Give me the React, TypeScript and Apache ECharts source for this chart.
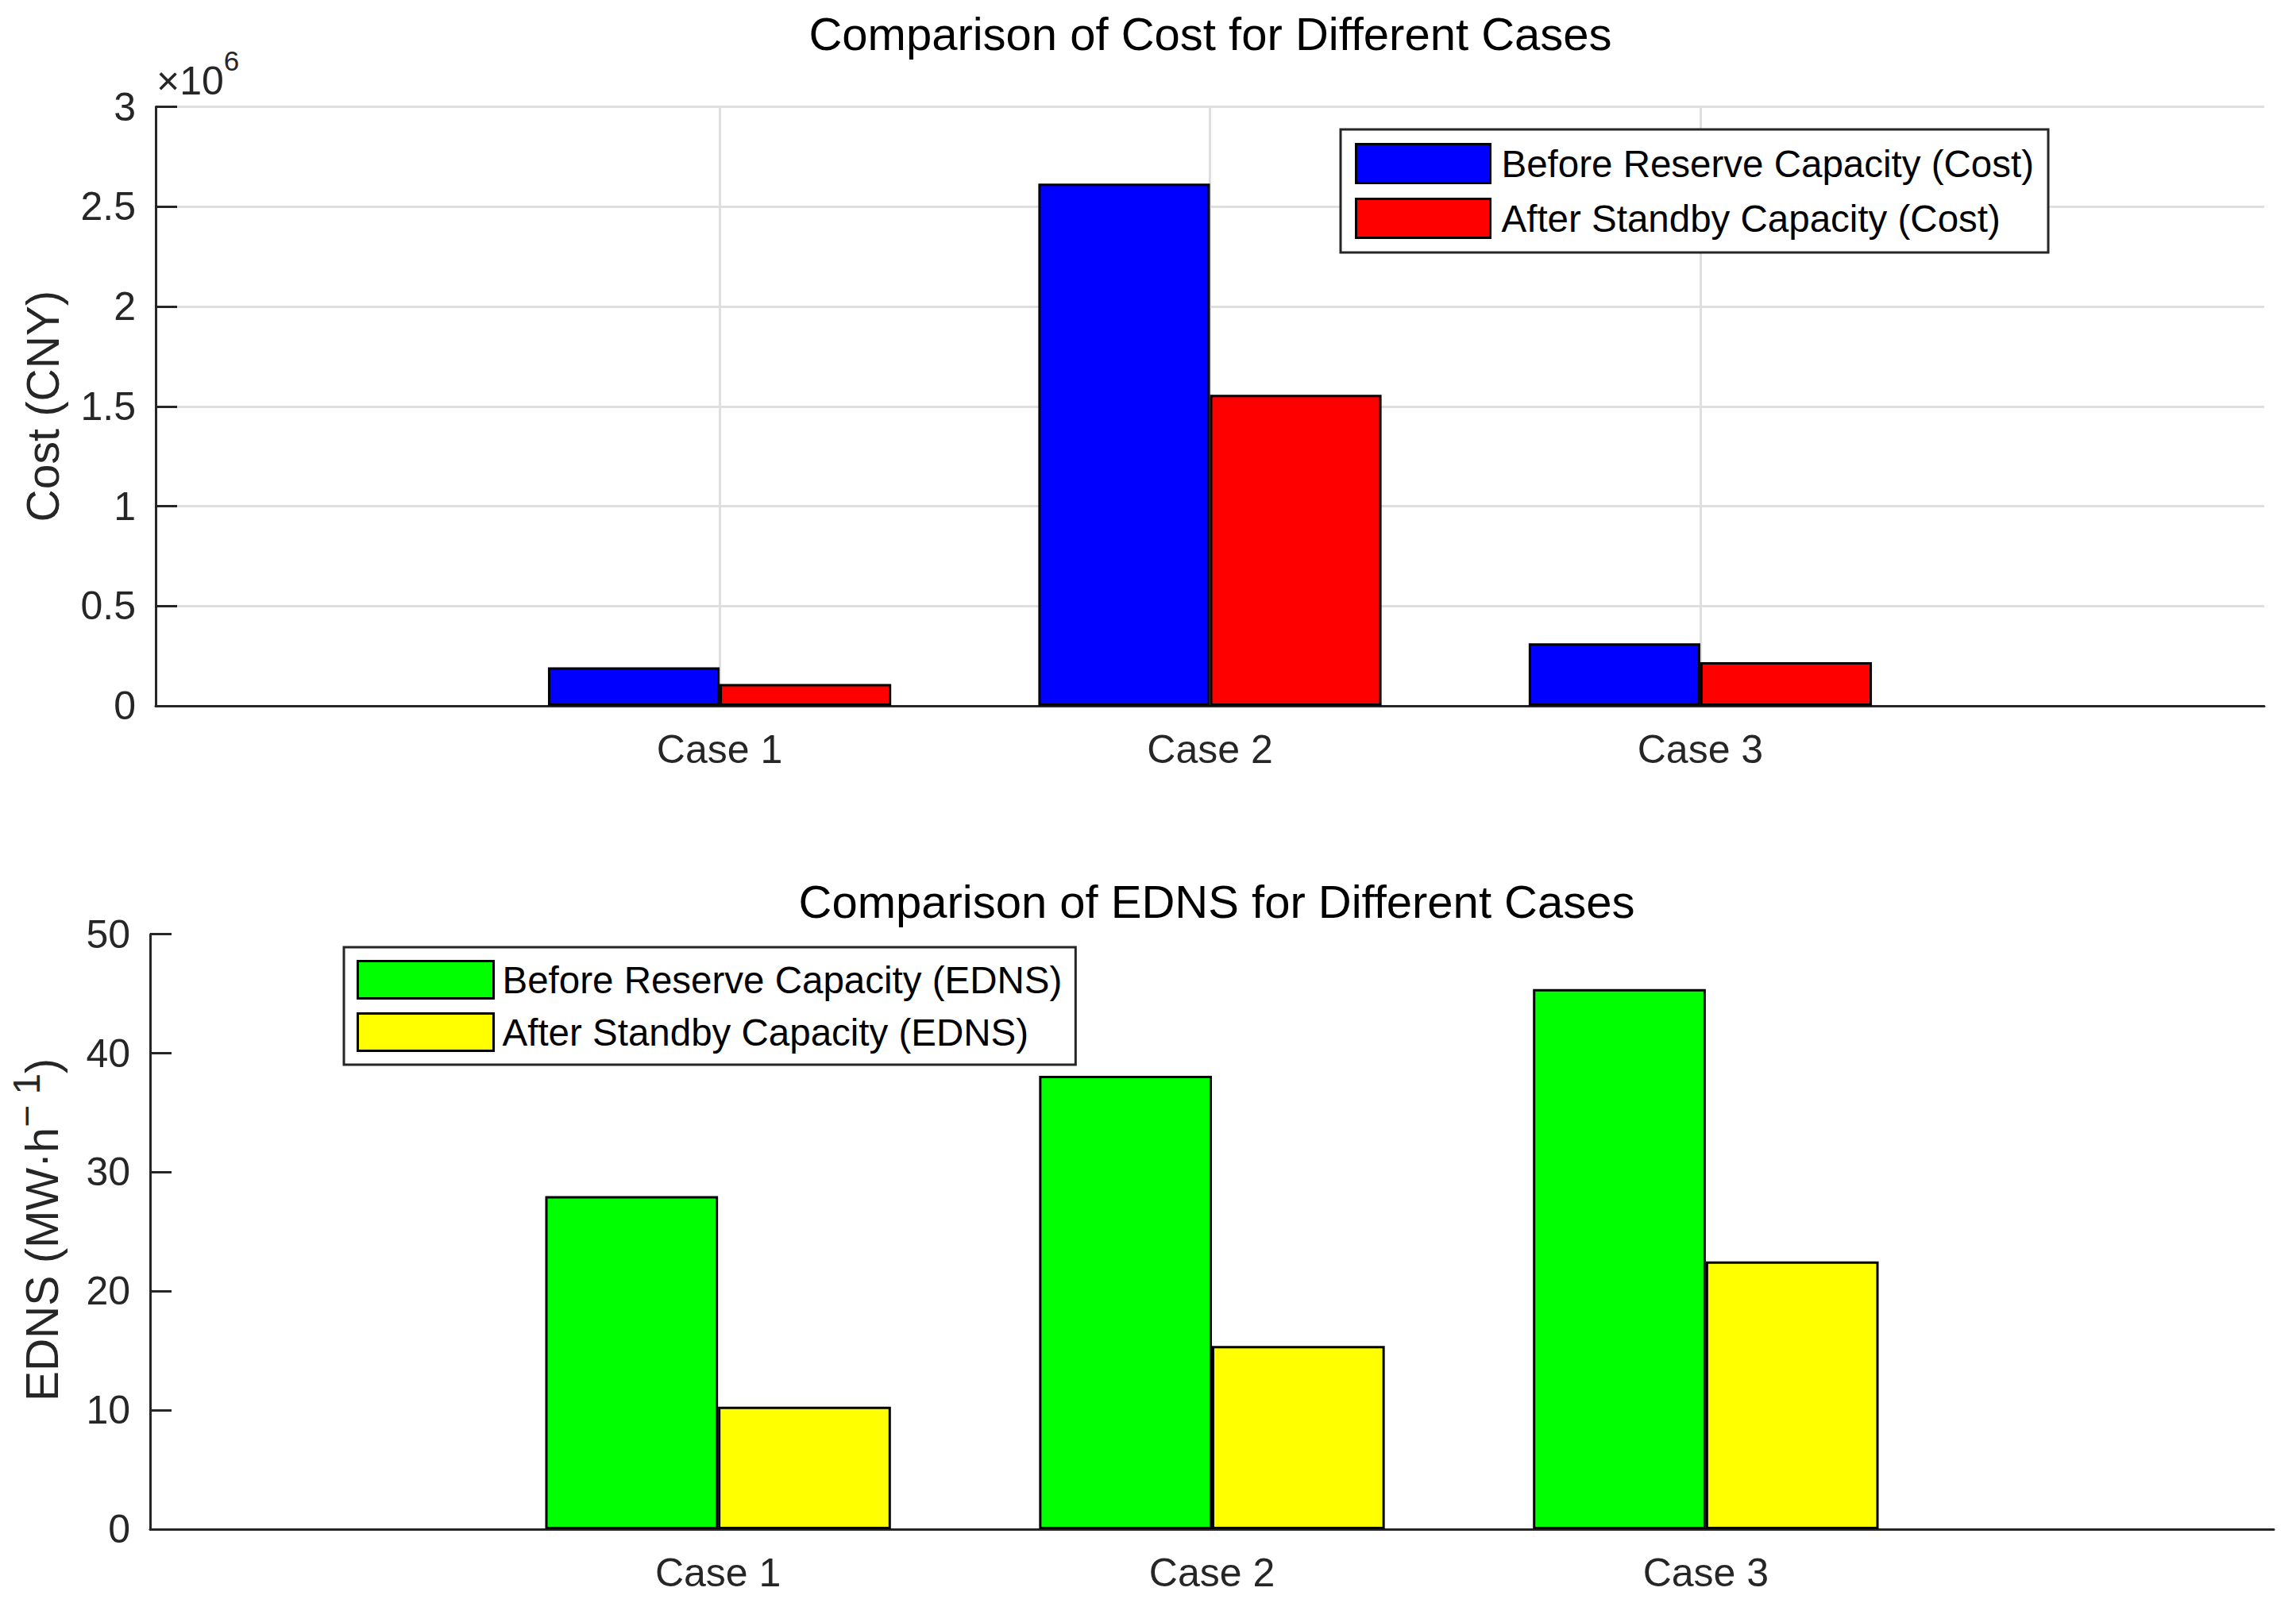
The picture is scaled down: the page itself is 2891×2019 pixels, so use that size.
import React, { useEffect, useRef } from "react";
import * as echarts from "echarts";

const FONT = "'Liberation Sans', Arial, Helvetica, sans-serif";
const AXIS_COLOR = "#262626";
const GRID_COLOR = "#dfdfdf";

const cases = ["Case 1", "Case 2", "Case 3"];
const caseX = [1, 2, 3];
const costBefore = [193000, 2615000, 313000];
const costAfter = [109000, 1558000, 219000];
const ednsBefore = [28.0, 38.1, 45.4];
const ednsAfter = [10.3, 15.4, 22.5];
const costTicks = { min: 0, max: 3000000, interval: 500000 };
const ednsTicks = { min: 0, max: 50, interval: 10 };
const costNames = ["Before Reserve Capacity (Cost)", "After Standby Capacity (Cost)"];
const ednsNames = ["Before Reserve Capacity (EDNS)", "After Standby Capacity (EDNS)"];

function pairs(vals: number[]) {
  return caseX.map((x, i) => [x, vals[i]]);
}

export default function App() {
  const ref = useRef<HTMLDivElement>(null);
  useEffect(() => {
    document.body.style.margin = "0";
    if (!ref.current) return;
    const chart = echarts.init(ref.current, undefined, { renderer: "svg" });

    const xAxisBase = (gridIndex: number, grid: boolean) => ({
      type: "value",
      gridIndex,
      min: -0.15,
      max: 4.15,
      axisLine: { show: true, onZero: false, lineStyle: { color: AXIS_COLOR, width: 3 } },
      axisTick: { show: false, customValues: caseX },
      axisLabel: {
        customValues: caseX,
        formatter: (v: number) => cases[Math.round(v) - 1] ?? "",
        fontSize: 50,
        color: AXIS_COLOR,
        fontFamily: FONT,
        margin: 30,
      },
      splitLine: { show: grid, lineStyle: { color: GRID_COLOR, width: 3 } },
    });

    const yAxisBase = (gridIndex: number, ticks: any, grid: boolean, fmt: (v: number) => string) => ({
      type: "value",
      gridIndex,
      min: ticks.min,
      max: ticks.max,
      interval: ticks.interval,
      axisLine: { show: true, onZero: false, lineStyle: { color: AXIS_COLOR, width: 3 } },
      axisTick: { show: true, inside: true, length: 27, lineStyle: { color: AXIS_COLOR, width: 3 } },
      axisLabel: { fontSize: 50, color: AXIS_COLOR, fontFamily: FONT, margin: 25, formatter: fmt },
      splitLine: { show: grid, lineStyle: { color: GRID_COLOR, width: 3 } },
      nameLocation: "middle",
      nameRotate: 90,
    });

    const legendBase = {
      orient: "vertical",
      icon: "rect",
      borderColor: AXIS_COLOR,
      borderWidth: 3,
      borderRadius: 0,
      backgroundColor: "#ffffff",
      selectedMode: false,
      itemStyle: { borderColor: "#000", borderWidth: 3 },
    };

    const barSeries = (name: string, vals: number[], color: string, idx: number) => ({
      type: "bar",
      name,
      xAxisIndex: idx,
      yAxisIndex: idx,
      barWidth: "35%",
      barGap: "0%",
      itemStyle: { color, borderColor: "#000", borderWidth: 3 },
      data: pairs(vals),
    });

    const option: any = {
      animation: false,
      backgroundColor: "#ffffff",
      textStyle: { fontFamily: FONT },
      title: [
        {
          text: "Comparison of Cost for Different Cases",
          left: 1524,
          top: 13,
          textAlign: "center",
          padding: 0,
          textStyle: { fontSize: 58, fontWeight: "normal", color: "#000", fontFamily: FONT, lineHeight: 58 },
        },
        {
          text: "Comparison of EDNS for Different Cases",
          left: 1532,
          top: 1106,
          textAlign: "center",
          padding: 0,
          textStyle: { fontSize: 58, fontWeight: "normal", color: "#000", fontFamily: FONT, lineHeight: 58 },
        },
        {
          text: "×10{sup|6}",
          left: 197,
          top: 77,
          padding: 0,
          textStyle: {
            fontSize: 50,
            fontWeight: "normal",
            color: AXIS_COLOR,
            fontFamily: FONT,
            lineHeight: 50,
            rich: {
              sup: { fontSize: 35, lineHeight: 50, padding: [0, 0, 52, 0], color: AXIS_COLOR, fontFamily: FONT },
            },
          },
        },
      ],
      graphic: [
        {
          type: "text",
          x: 53,
          y: 1549,
          rotation: Math.PI / 2,
          silent: true,
          style: {
            text: "EDNS (MW·h{sup|− 1})",
            fontSize: 57,
            fontFamily: FONT,
            fill: AXIS_COLOR,
            lineHeight: 57,
            align: "center",
            verticalAlign: "middle",
            rich: {
              sup: { fontSize: 48, lineHeight: 57, padding: [0, 0, 40, 0], fill: AXIS_COLOR, fontFamily: FONT },
            },
          },
        },
      ],
      legend: [
        {
          ...legendBase,
          data: costNames,
          left: 1688,
          top: 163,
          padding: [17, 18, 17, 18],
          itemWidth: 169,
          itemHeight: 49,
          itemGap: 17,
          textStyle: { fontSize: 47.5, lineHeight: 49, color: "#000", fontFamily: FONT, padding: [0, 0, 0, 9] },
        },
        {
          ...legendBase,
          data: ednsNames,
          left: 433,
          top: 1193,
          padding: [16, 17, 16, 16],
          itemWidth: 171,
          itemHeight: 47,
          itemGap: 16,
          textStyle: { fontSize: 47.5, lineHeight: 47, color: "#000", fontFamily: FONT, padding: [0, 0, 0, 6] },
        },
      ],
      grid: [
        { left: 196, top: 134.5, right: 40, bottom: 1130, containLabel: false, outerBoundsMode: "none" },
        { left: 189, top: 1176.7, right: 28, bottom: 93, containLabel: false, outerBoundsMode: "none" },
      ],
      xAxis: [xAxisBase(0, true), xAxisBase(1, false)],
      yAxis: [
        {
          ...yAxisBase(0, costTicks, true, (v: number) => String(v / 1e6)),
          name: "Cost (CNY)",
          nameGap: 114,
          nameTextStyle: { fontSize: 57, color: AXIS_COLOR, fontFamily: FONT, lineHeight: 57 },
        },
        {
          ...yAxisBase(1, ednsTicks, false, (v: number) => String(v)),
        },
      ],
      series: [
        barSeries(costNames[0], costBefore, "#0000ff", 0),
        barSeries(costNames[1], costAfter, "#ff0000", 0),
        barSeries(ednsNames[0], ednsBefore, "#00ff00", 1),
        barSeries(ednsNames[1], ednsAfter, "#ffff00", 1),
      ],
    };

    chart.setOption(option);
    return () => chart.dispose();
  }, []);

  return <div ref={ref} style={{ width: 2891, height: 2019 }} />;
}
